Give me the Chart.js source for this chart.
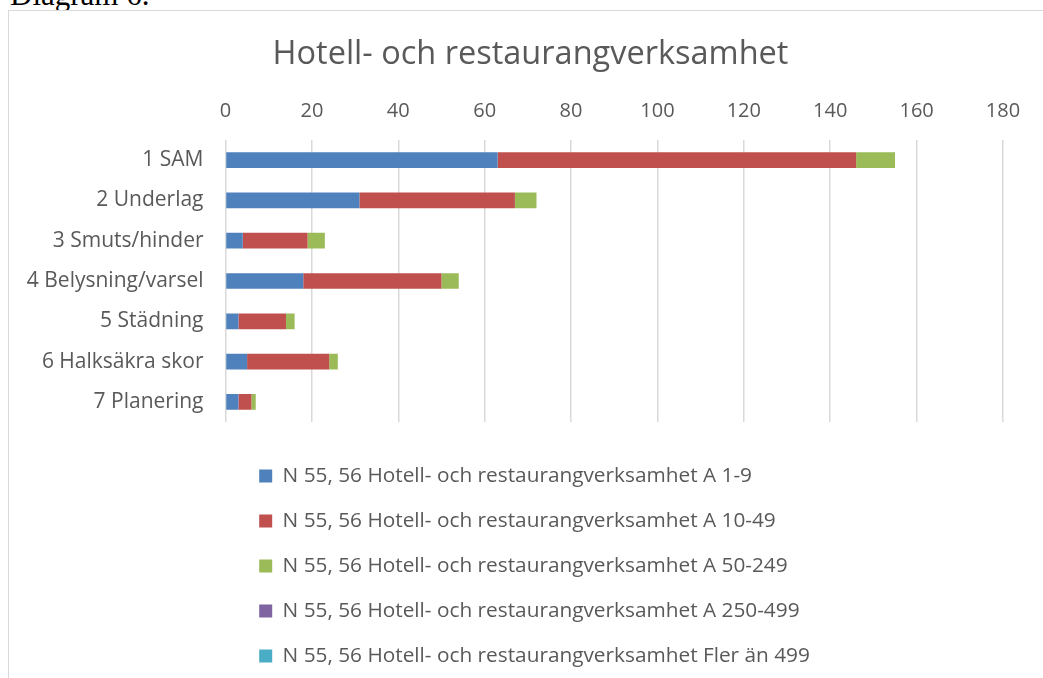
<!DOCTYPE html>
<html>
<head>
<meta charset="utf-8">
<script src="https://cdn.jsdelivr.net/npm/chart.js@4"></script>
<style>
    html, body { margin: 0; padding: 0; background: #fff; overflow: hidden; }
    body { width: 1043px; height: 678px; position: relative; }
    #caption { position: absolute; left: 10px; top: -21px; font: 31px/31px "Liberation Serif", serif; color: #000; white-space: nowrap; }
    #frame { position: absolute; left: 8px; top: 10px; width: 1100px; height: 800px; border: 1px solid #d9d9d9; background: #fff; }
    #wrap { position: absolute; left: 9px; top: 11px; width: 1043px; height: 667px; }
</style>
</head>
<body>
<div id="caption">Diagram 6.</div>
<div id="frame"></div>
<div id="wrap"><canvas id="chart"></canvas></div>
<script>
var categories = ['1 SAM', '2 Underlag', '3 Smuts/hinder', '4 Belysning/varsel', '5 Städning', '6 Halksäkra skor', '7 Planering'];
var seriesNames = [
    'N 55, 56 Hotell- och restaurangverksamhet A 1-9',
    'N 55, 56 Hotell- och restaurangverksamhet A 10-49',
    'N 55, 56 Hotell- och restaurangverksamhet A 50-249',
    'N 55, 56 Hotell- och restaurangverksamhet A 250-499',
    'N 55, 56 Hotell- och restaurangverksamhet Fler än 499'
];
var a1to9 = [63, 31, 4, 18, 3, 5, 3];
var a10to49 = [83, 36, 15, 32, 11, 19, 3];
var a50to249 = [9, 5, 4, 4, 2, 2, 1];
var a250to499 = [0, 0, 0, 0, 0, 0, 0];
var fler499 = [0, 0, 0, 0, 0, 0, 0];
var xTicks = [0, 20, 40, 60, 80, 100, 120, 140, 160, 180];

var colors = ['#4f81bd', '#c0504d', '#9bbb59', '#8064a2', '#4bacc6'];
var textColor = '#595959';
var fontName = 'Open Sans';

// keep title centred on the whole canvas, nudge legend to where Excel puts it
var boxShift = {
    id: 'boxShift',
    afterLayout: function(chart) {
        var t = chart.titleBlock;
        t.left = 0; t.right = chart.width; t.width = chart.width;
        var l = chart.legend;
        l.left += 9.5; l.right += 9.5;
        l.top += 19.5; l.bottom += 19.5;
    }
};

document.addEventListener('DOMContentLoaded', function() {
    var values = [a1to9, a10to49, a50to249, a250to499, fler499];
    var datasets = values.map(function(v, i) {
        return {
            label: seriesNames[i],
            data: v,
            backgroundColor: colors[i],
            borderWidth: 0,
            barPercentage: 0.39,
            categoryPercentage: 1
        };
    });

    new Chart(document.getElementById('chart').getContext('2d'), {
        type: 'bar',
        data: { labels: categories, datasets: datasets },
        plugins: [boxShift],
        options: {
            indexAxis: 'y',
            responsive: true,
            maintainAspectRatio: false,
            animation: false,
            layout: { padding: { top: 0, left: 0, right: 49, bottom: 21 } },
            scales: {
                x: {
                    type: 'linear',
                    position: 'top',
                    stacked: true,
                    min: 0,
                    max: 180,
                    afterBuildTicks: function(axis) {
                        axis.ticks = xTicks.map(function(v) { return { value: v }; });
                    },
                    ticks: { color: textColor, font: { family: fontName, size: 20 }, padding: 16.5 },
                    grid: { color: '#d9d9d9', lineWidth: 1.5, drawTicks: false },
                    border: { display: false }
                },
                y: {
                    stacked: true,
                    afterFit: function(axis) { axis.width = 216.5; },
                    ticks: { color: textColor, font: { family: fontName, size: 21 }, padding: 22 },
                    grid: { display: false, drawTicks: false },
                    border: { display: false }
                }
            },
            plugins: {
                title: {
                    display: true,
                    text: 'Hotell- och restaurangverksamhet',
                    color: textColor,
                    font: { family: fontName, size: 32.5, weight: 'normal' },
                    padding: { top: 24.5, bottom: 8.5 }
                },
                legend: {
                    position: 'bottom',
                    align: 'start',
                    fullSize: false,
                    labels: {
                        color: textColor,
                        font: { family: fontName, size: 20.8 },
                        boxWidth: 13,
                        boxHeight: 13,
                        padding: 24.2
                    }
                },
                tooltip: { enabled: false }
            }
        }
    });
});
</script>
</body>
</html>
